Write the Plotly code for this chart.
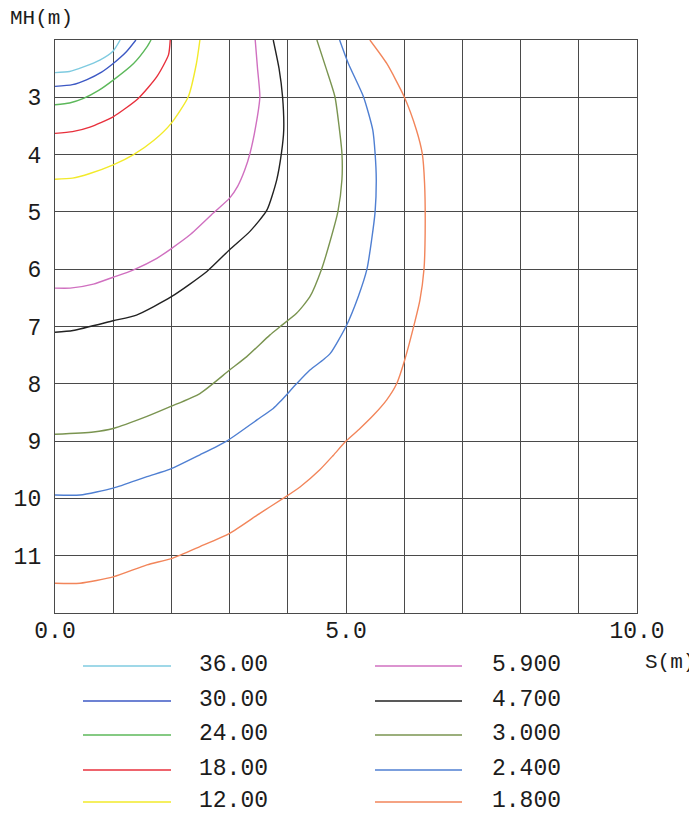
import plotly.graph_objects as go

# ---- data ----
levels = ["36.00", "30.00", "24.00", "18.00", "12.00",
          "5.900", "4.700", "3.000", "2.400", "1.800"]
colors = ["#7fcbe0", "#3c58c4", "#5cb85a", "#e8303c", "#f2ea2a",
          "#d070c0", "#222222", "#7a9450", "#4f7fd2", "#f2855a"]

s_36 = [0, 0.25, 0.49, 0.77, 1.0, 1.12]
mh_36 = [2.57, 2.55, 2.47, 2.35, 2.19, 2.0]

s_30 = [0, 0.3, 0.55, 0.8, 1.0, 1.23, 1.39]
mh_30 = [2.81, 2.78, 2.69, 2.56, 2.41, 2.20, 2.0]

s_24 = [0, 0.25, 0.49, 0.75, 1.0, 1.35, 1.58, 1.65]
mh_24 = [3.13, 3.10, 3.02, 2.88, 2.70, 2.41, 2.12, 2.0]

s_18 = [0, 0.3, 0.6, 1.0, 1.43, 1.75, 1.95, 1.98]
mh_18 = [3.63, 3.60, 3.52, 3.34, 3.02, 2.64, 2.26, 2.0]

s_12 = [0, 0.3, 0.6, 1.0, 1.35, 1.7, 2.0, 2.29, 2.43, 2.49]
mh_12 = [4.43, 4.41, 4.33, 4.18, 4.0, 3.75, 3.45, 2.99, 2.41, 2.0]

s_59 = [0, 0.26, 0.66, 1.0, 1.35, 1.75, 2.0, 2.32, 2.72, 3.0, 3.14, 3.26, 3.35, 3.45, 3.52, 3.48, 3.44]
mh_59 = [6.33, 6.33, 6.26, 6.14, 6.01, 5.81, 5.64, 5.40, 5.02, 4.76, 4.55, 4.27, 3.98, 3.5, 2.99, 2.5, 2.0]

s_47 = [0, 0.31, 1.0, 1.40, 2.0, 2.61, 3.0, 3.35, 3.64, 3.81, 3.89, 3.93, 3.91, 3.85, 3.75]
mh_47 = [7.10, 7.07, 6.90, 6.80, 6.48, 6.04, 5.66, 5.34, 4.97, 4.44, 3.98, 3.57, 2.99, 2.5, 2.0]

s_30b = [0, 0.66, 1.0, 1.58, 1.98, 2.49, 3.0, 3.29, 3.69, 3.87, 4.15, 4.38, 4.58, 4.73, 4.86, 4.93, 4.93, 4.88, 4.81, 4.66, 4.50]
mh_30b = [8.88, 8.84, 8.78, 8.57, 8.40, 8.17, 7.76, 7.53, 7.15, 7.0, 6.77, 6.48, 6.0, 5.5, 5.0, 4.44, 3.98, 3.5, 2.99, 2.5, 2.0]

s_24b = [0, 0.43, 1.0, 1.58, 1.98, 2.49, 2.95, 3.47, 3.75, 3.87, 4.15, 4.38, 4.61, 4.73, 5.0, 5.21, 5.36, 5.44, 5.50, 5.52, 5.50, 5.46, 5.30, 5.04, 4.89]
mh_24b = [9.94, 9.94, 9.82, 9.62, 9.49, 9.24, 9.0, 8.63, 8.43, 8.31, 8.0, 7.76, 7.58, 7.47, 7.0, 6.48, 6.0, 5.49, 5.0, 4.44, 3.98, 3.57, 2.99, 2.41, 2.0]

s_18b = [0, 0.43, 1.0, 1.58, 2.0, 2.49, 3.0, 3.52, 3.92, 4.21, 4.55, 4.78, 5.0, 5.24, 5.47, 5.70, 5.87, 6.01, 6.19, 6.27, 6.34, 6.36, 6.35, 6.31, 6.21, 6.0, 5.70, 5.41]
mh_18b = [11.48, 11.48, 11.37, 11.16, 11.05, 10.84, 10.61, 10.26, 10.0, 9.80, 9.50, 9.25, 9.0, 8.78, 8.55, 8.28, 8.0, 7.58, 6.89, 6.54, 6.0, 5.37, 4.5, 3.98, 3.57, 2.99, 2.41, 2.0]

x_tick_vals = [0, 1, 2, 3, 4, 5, 6, 7, 8, 9, 10]
x_tick_text = ["0.0", "", "", "", "", "5.0", "", "", "", "", "10.0"]
y_tick_vals = [2, 3, 4, 5, 6, 7, 8, 9, 10, 11, 12]
y_tick_text = ["", "3", "4", "5", "6", "7", "8", "9", "10", "11", ""]

curves_s = [s_36, s_30, s_24, s_18, s_12, s_59, s_47, s_30b, s_24b, s_18b]
curves_mh = [mh_36, mh_30, mh_24, mh_18, mh_12, mh_59, mh_47, mh_30b, mh_24b, mh_18b]

FONT = "Liberation Mono, Courier New, monospace"
TXT = "#1c1c1c"
OFF = 8  # browser body margin
W, H = 697 - OFF, 814 - OFF
ML, MR, MT, MB = 55 - OFF, 60, 40 - OFF, 201
PW, PH = W - ML - MR, H - MT - MB

fig = go.Figure()
for lv, c, xs, ys in zip(levels, colors, curves_s, curves_mh):
    fig.add_trace(go.Scatter(x=xs, y=ys, mode="lines", name=lv,
                             line=dict(color=c, width=1.4, shape="spline", smoothing=0.6),
                             showlegend=False))

# page pixel -> paper coordinates
def px_x(p):
    return (p - OFF - ML) / PW

def px_y(p):
    return (H - MB - (p - OFF)) / PH

# manual two-column legend
row_y = [665, 700, 734, 769, 801]
cols = [(83, 171, 198), (375, 462, 491)]
shapes = []
annotations = []
for i, (lv, c) in enumerate(zip(levels, colors)):
    col = cols[i // 5]
    y = row_y[i % 5]
    shapes.append(dict(type="line", xref="paper", yref="paper",
                       x0=px_x(col[0]), x1=px_x(col[1]), y0=px_y(y + 1), y1=px_y(y + 1),
                       line=dict(color=c, width=1.4)))
    annotations.append(dict(text=lv, xref="paper", yref="paper",
                            x=px_x(col[2]), y=px_y(y), xanchor="left", yanchor="middle",
                            showarrow=False, borderpad=0,
                            font=dict(family=FONT, size=23, color=TXT)))

annotations.append(dict(text="MH(m)", xref="paper", yref="paper",
                        x=px_x(8), y=px_y(19), xanchor="left", yanchor="middle",
                        showarrow=False, font=dict(family=FONT, size=21, color=TXT)))
annotations.append(dict(text="S(m)", xref="paper", yref="paper",
                        x=px_x(643), y=px_y(662), xanchor="left", yanchor="middle",
                        showarrow=False, font=dict(family=FONT, size=21, color=TXT)))

fig.update_layout(
    width=W, height=H,
    margin=dict(l=ML, r=MR, t=MT, b=MB),
    plot_bgcolor="white", paper_bgcolor="white",
    shapes=shapes, annotations=annotations,
    showlegend=False,
)
fig.update_xaxes(range=[0, 10], tickvals=x_tick_vals, ticktext=x_tick_text,
                 showgrid=True, gridcolor="#4a4a4a", gridwidth=1.2,
                 showline=True, linecolor="#4a4a4a", linewidth=1.4, mirror=True,
                 zeroline=False, ticks="", ticklabelstandoff=-4, automargin=False,
                 tickfont=dict(family=FONT, size=23, color=TXT))
fig.update_yaxes(range=[12, 2], tickvals=y_tick_vals, ticktext=y_tick_text,
                 showgrid=True, gridcolor="#4a4a4a", gridwidth=1.2,
                 showline=True, linecolor="#4a4a4a", linewidth=1.4, mirror=True,
                 zeroline=False, ticks="", ticklabelstandoff=8, automargin=False,
                 tickfont=dict(family=FONT, size=23, color=TXT))

fig.write_html("out.html")
